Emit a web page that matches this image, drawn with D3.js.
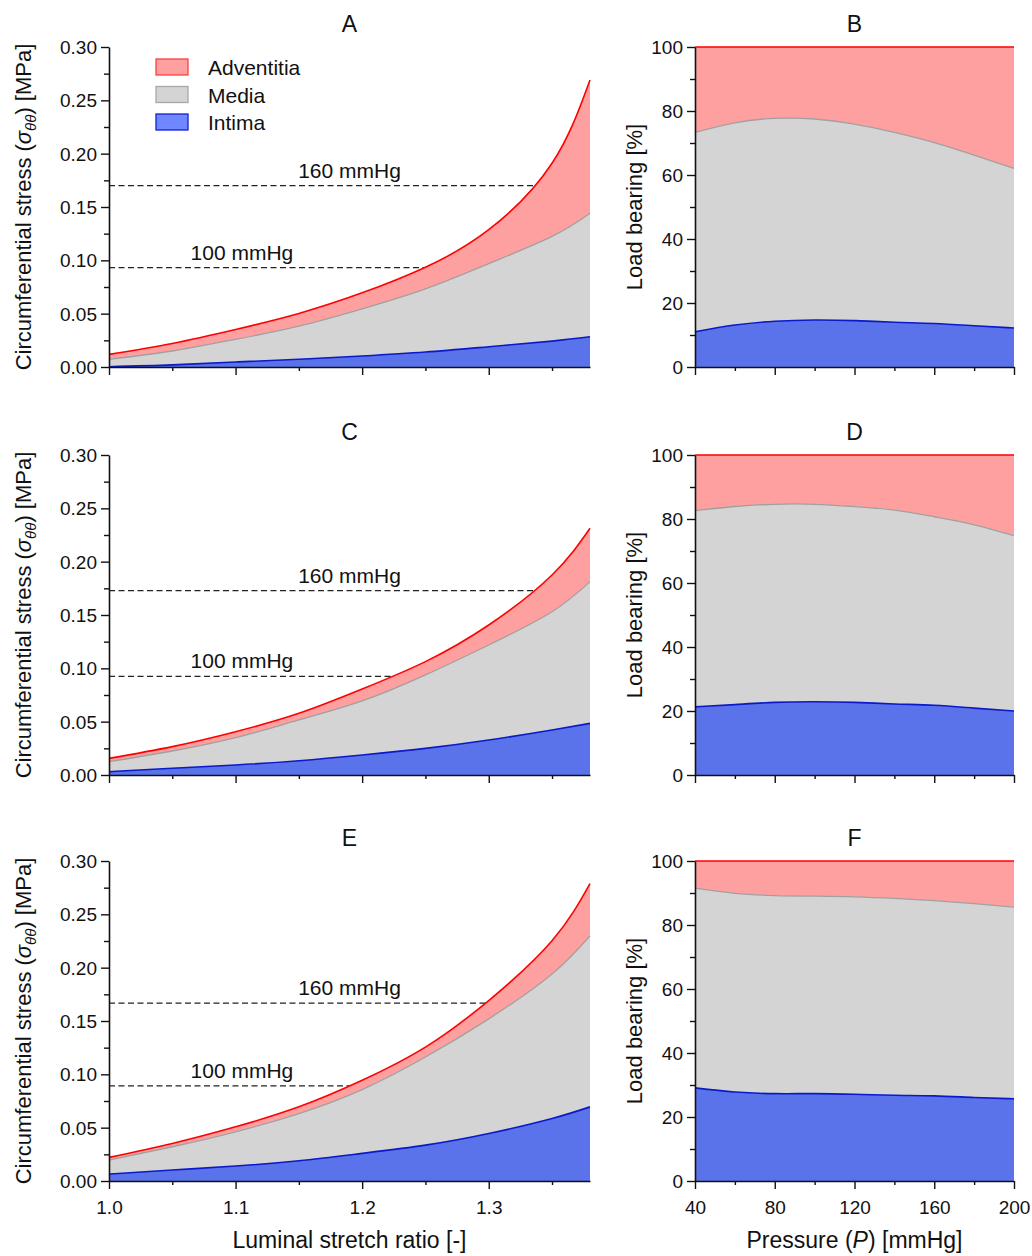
<!DOCTYPE html>
<html lang="en">
  <head>
    <meta charset="utf-8" />
    <title>Layer stress and load bearing</title>
    <style>
      body {
        margin: 0;
        background: #fff;
      }
      svg text {
        font-family: 'Liberation Sans', Arial, Helvetica, sans-serif;
        fill: #111;
      }
    </style>
  </head>

  <body>
    <div id="chart"></div>

    <script src="https://cdnjs.cloudflare.com/ajax/libs/d3/7.8.5/d3.min.js"></script>
    <script type="text/javascript">
      // Luminal stretch ratio (x of panels A, C, E)
      var stretch = [1.0, 1.05, 1.1, 1.15, 1.2, 1.25, 1.3, 1.35, 1.38]

      // Stacked (cumulative) circumferential stress [MPa]: top of intima, media, adventitia
      var intimaA = [0.0003, 0.002, 0.0047, 0.0072, 0.0103, 0.014, 0.019, 0.0243, 0.0283]
      var mediaA = [0.0072, 0.015, 0.0259, 0.0383, 0.0545, 0.0732, 0.0969, 0.1224, 0.1442]
      var adventA = [0.0118, 0.0221, 0.0352, 0.0502, 0.0695, 0.0935, 0.1287, 0.191, 0.269]

      var intimaC = [0.0031, 0.0063, 0.0094, 0.0134, 0.0188, 0.025, 0.0328, 0.0422, 0.0484]
      var mediaC = [0.0125, 0.0225, 0.035, 0.0516, 0.0694, 0.0938, 0.1219, 0.1531, 0.1813]
      var adventC = [0.0156, 0.0266, 0.0406, 0.0578, 0.0806, 0.1063, 0.1406, 0.1875, 0.2313]

      var intimaE = [0.0065, 0.0103, 0.014, 0.019, 0.0259, 0.0336, 0.0445, 0.0586, 0.0695]
      var mediaE = [0.0196, 0.0321, 0.0461, 0.0632, 0.0857, 0.1162, 0.152, 0.1941, 0.2299]
      var adventE = [0.0221, 0.0352, 0.0508, 0.0695, 0.0944, 0.1255, 0.1692, 0.2252, 0.2788]

      // stress levels reached at 160 and 100 mmHg
      var levelsA = [0.17, 0.0931]
      var levelsC = [0.1728, 0.0925]
      var levelsE = [0.1667, 0.0891]
      var levelNames = ['160 mmHg', '100 mmHg']
      var levelLabelX = [1.19, 1.105]

      // Pressure [mmHg] (x of panels B, D, F)
      var pressure = [40, 60, 80, 100, 120, 140, 160, 180, 200]

      // Stacked (cumulative) load bearing [%]: top of intima, media, adventitia
      var intimaB = [11.0, 13.1, 14.3, 14.7, 14.5, 14.0, 13.6, 12.9, 12.2]
      var mediaB = [73.3, 76.3, 77.7, 77.5, 75.9, 73.3, 70.1, 66.2, 62.1]
      var intimaD = [21.3, 22.0, 22.7, 22.9, 22.7, 22.2, 21.8, 20.9, 20.0]
      var mediaD = [82.6, 83.9, 84.6, 84.6, 83.9, 82.8, 80.7, 78.2, 74.8]
      var intimaF = [29.1, 27.8, 27.3, 27.3, 27.1, 26.8, 26.6, 26.1, 25.7]
      var mediaF = [91.5, 89.9, 89.2, 89.0, 88.8, 88.3, 87.6, 86.7, 85.6]
      var adventTotal = [100, 100, 100, 100, 100, 100, 100, 100, 100]

      var layerNames = ['Adventitia', 'Media', 'Intima']

      var colors = {
        Adventitia: { fill: '#ffa0a0', stroke: '#ff0000', legendFill: '#ffa0a0', legendStroke: '#ff4040' },
        Media: { fill: '#d4d4d4', stroke: '#a0a0a0', legendFill: '#d4d4d4', legendStroke: '#a8a8a8' },
        Intima: { fill: '#5a73ea', stroke: '#0a1ac8', legendFill: '#6f88ff', legendStroke: '#1020d0' },
      }

      var svg = d3.select('#chart').append('svg').attr('width', 1032).attr('height', 1256)

      var leftRange = [109, 590]
      var rightRange = [695, 1014]
      var rows = [
        [47, 367],
        [455, 775],
        [861, 1181],
      ]

      function drawAxes(g, x, y, xMajor, xMinor, yMajor, yMinor, xFmt, yFmt, showXLabels, height) {
        // minor ticks first
        g.append('g')
          .attr('transform', 'translate(0,' + height + ')')
          .call(d3.axisBottom(x).tickValues(xMinor).tickSize(4).tickFormat(''))
          .call((s) => s.select('.domain').remove())
        g.append('g')
          .call(d3.axisLeft(y).tickValues(yMinor).tickSize(5).tickFormat(''))
          .call((s) => s.select('.domain').remove())

        var xa = g
          .append('g')
          .attr('transform', 'translate(0,' + height + ')')
          .call(
            d3
              .axisBottom(x)
              .tickValues(xMajor)
              .tickSize(8)
              .tickSizeOuter(0)
              .tickPadding(8)
              .tickFormat(showXLabels ? xFmt : '')
          )
        var ya = g.append('g').call(
          d3.axisLeft(y).tickValues(yMajor).tickSize(8).tickSizeOuter(0).tickPadding(4).tickFormat(yFmt)
        )

        g.selectAll('.tick line').attr('stroke', '#111').attr('stroke-width', 1.4)
        g.selectAll('.domain').attr('stroke', '#111').attr('stroke-width', 1.6)
        g.selectAll('.tick text').attr('font-size', 19).attr('fill', '#111')
        xa.selectAll('.tick text').attr('dy', '0.9em')
        ya.selectAll('.tick text').attr('dy', '0.35em')
      }

      function drawLayers(g, x, y, xs, intima, media, advent) {
        var layers = [
          { name: 'Adventitia', lo: media, hi: advent },
          { name: 'Media', lo: intima, hi: media },
          { name: 'Intima', lo: xs.map(() => 0), hi: intima },
        ]
        layers.forEach(function (l) {
          var pts = xs.map((v, i) => ({ x: v, lo: l.lo[i], hi: l.hi[i] }))
          var area = d3
            .area()
            .curve(d3.curveNatural)
            .x((d) => x(d.x))
            .y0((d) => y(d.lo))
            .y1((d) => y(d.hi))
          g.append('path').datum(pts).attr('d', area).attr('fill', colors[l.name].fill)
        })
        // outline of each layer top
        layers.forEach(function (l) {
          var pts = xs.map((v, i) => ({ x: v, hi: l.hi[i] }))
          var line = d3
            .line()
            .curve(d3.curveNatural)
            .x((d) => x(d.x))
            .y((d) => y(d.hi))
          g.append('path')
            .datum(pts)
            .attr('d', line)
            .attr('fill', 'none')
            .attr('stroke', colors[l.name].stroke)
            .attr('stroke-width', l.name === 'Media' ? 1.3 : 1.6)
        })
      }

      // Left column: circumferential stress
      var stressPanels = [
        { title: 'A', intima: intimaA, media: mediaA, advent: adventA, levels: levelsA },
        { title: 'C', intima: intimaC, media: mediaC, advent: adventC, levels: levelsC },
        { title: 'E', intima: intimaE, media: mediaE, advent: adventE, levels: levelsE },
      ]

      stressPanels.forEach(function (p, r) {
        var top = rows[r][0],
          bottom = rows[r][1]
        var g = svg.append('g').attr('transform', 'translate(' + leftRange[0] + ',' + top + ')')
        var w = leftRange[1] - leftRange[0],
          h = bottom - top
        var x = d3.scaleLinear().domain([1.0, 1.38]).range([0, w])
        var y = d3.scaleLinear().domain([0, 0.3]).range([h, 0])

        // dashed pressure levels (behind the areas)
        p.levels.forEach(function (lv, i) {
          g.append('line')
            .attr('x1', x(1.0))
            .attr('x2', x(1.38) + 3)
            .attr('y1', y(lv))
            .attr('y2', y(lv))
            .attr('stroke', '#222')
            .attr('stroke-width', 1.3)
            .attr('stroke-dasharray', '6,3.5')
          g.append('text')
            .attr('x', x(levelLabelX[i]))
            .attr('y', y(lv) - 8)
            .attr('text-anchor', 'middle')
            .attr('font-size', 21)
            .text(levelNames[i])
        })

        drawLayers(g, x, y, stretch, p.intima, p.media, p.advent)

        drawAxes(
          g,
          x,
          y,
          [1.0, 1.1, 1.2, 1.3],
          [1.05, 1.15, 1.25, 1.35],
          [0, 0.05, 0.1, 0.15, 0.2, 0.25, 0.3],
          [0.025, 0.075, 0.125, 0.175, 0.225, 0.275],
          d3.format('.1f'),
          d3.format('.2f'),
          r === 2,
          h
        )

        svg.append('text')
          .attr('x', (leftRange[0] + leftRange[1]) / 2)
          .attr('y', top - 15)
          .attr('text-anchor', 'middle')
          .attr('font-size', 23)
          .text(p.title)

        var yt = svg
          .append('text')
          .attr('transform', 'translate(31,' + (top + bottom) / 2 + ') rotate(-90)')
          .attr('text-anchor', 'middle')
          .attr('font-size', 22)
        yt.append('tspan').text('Circumferential stress (')
        yt.append('tspan').attr('font-style', 'italic').text('σ')
        yt.append('tspan').attr('font-style', 'italic').attr('font-size', 15).attr('dy', 5).text('θθ')
        yt.append('tspan').attr('dy', -5).text(') [MPa]')
      })

      // Legend (panel A)
      layerNames.forEach(function (name, i) {
        var ly = 59 + i * 27.5
        svg.append('rect')
          .attr('x', 156)
          .attr('y', ly)
          .attr('width', 32)
          .attr('height', 16)
          .attr('fill', colors[name].legendFill)
          .attr('stroke', colors[name].legendStroke)
          .attr('stroke-width', 1.3)
        svg.append('text')
          .attr('x', 208)
          .attr('y', ly + 16)
          .attr('font-size', 21)
          .text(name)
      })

      // Right column: load bearing
      var loadPanels = [
        { title: 'B', intima: intimaB, media: mediaB },
        { title: 'D', intima: intimaD, media: mediaD },
        { title: 'F', intima: intimaF, media: mediaF },
      ]

      loadPanels.forEach(function (p, r) {
        var top = rows[r][0],
          bottom = rows[r][1]
        var g = svg.append('g').attr('transform', 'translate(' + rightRange[0] + ',' + top + ')')
        var w = rightRange[1] - rightRange[0],
          h = bottom - top
        var x = d3.scaleLinear().domain([40, 200]).range([0, w])
        var y = d3.scaleLinear().domain([0, 100]).range([h, 0])

        drawLayers(g, x, y, pressure, p.intima, p.media, adventTotal)

        drawAxes(
          g,
          x,
          y,
          [40, 80, 120, 160, 200],
          [60, 100, 140, 180],
          [0, 20, 40, 60, 80, 100],
          [10, 30, 50, 70, 90],
          d3.format('d'),
          d3.format('d'),
          r === 2,
          h
        )

        svg.append('text')
          .attr('x', (rightRange[0] + rightRange[1]) / 2)
          .attr('y', top - 15)
          .attr('text-anchor', 'middle')
          .attr('font-size', 23)
          .text(p.title)

        svg.append('text')
          .attr('transform', 'translate(642,' + (top + bottom) / 2 + ') rotate(-90)')
          .attr('text-anchor', 'middle')
          .attr('font-size', 22)
          .text('Load bearing [%]')
      })

      // x axis titles
      svg.append('text')
        .attr('x', (leftRange[0] + leftRange[1]) / 2)
        .attr('y', 1248)
        .attr('text-anchor', 'middle')
        .attr('font-size', 23)
        .text('Luminal stretch ratio [-]')

      var xt = svg
        .append('text')
        .attr('x', (rightRange[0] + rightRange[1]) / 2)
        .attr('y', 1248)
        .attr('text-anchor', 'middle')
        .attr('font-size', 23)
      xt.append('tspan').text('Pressure (')
      xt.append('tspan').attr('font-style', 'italic').text('P')
      xt.append('tspan').text(') [mmHg]')
    </script>
  </body>
</html>
